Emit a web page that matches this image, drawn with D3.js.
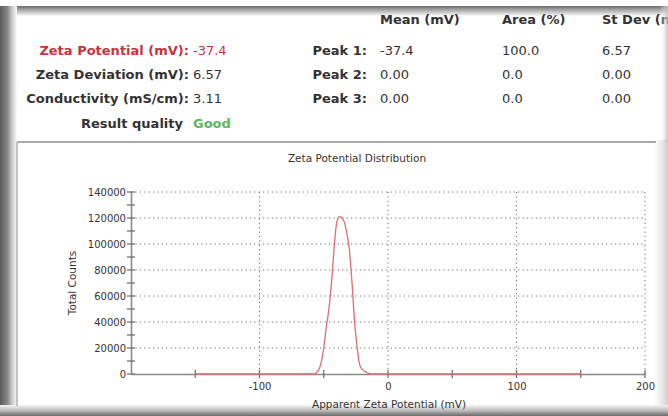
<!DOCTYPE html>
<html><head><meta charset="utf-8">
<script src="https://cdn.jsdelivr.net/npm/d3@7"></script>
<style>
html,body{margin:0;padding:0;background:#fff;}
svg{display:block;font-family:"DejaVu Sans","Liberation Sans",Arial,sans-serif;}
</style></head>
<body><svg id="c" width="668" height="416"></svg>
<script>
// ---- data ----
const summaryLabels = ["Zeta Potential (mV):", "Zeta Deviation (mV):", "Conductivity (mS/cm):", "Result quality"];
const summaryValues = ["-37.4", "6.57", "3.11", "Good"];
const peakLabels = ["Peak 1:", "Peak 2:", "Peak 3:"];
const peakHeaders = ["Mean (mV)", "Area (%)", "St Dev (mV)"];
const peakMeans = ["-37.4", "0.00", "0.00"];
const peakAreas = ["100.0", "0.0", "0.0"];
const peakStdDevs = ["6.57", "0.00", "0.00"];
const chartTitle = "Zeta Potential Distribution";
const xTickValues = [-100, 0, 100, 200];
const yTickValues = [0, 20000, 40000, 60000, 80000, 100000, 120000, 140000];
const zetaMv = [-150, -58, -56, -54, -52, -50, -48, -46, -44, -42, -40, -38, -36, -34, -32, -30, -28, -26, -24, -22, -20, -18, -16, -14, -12, 150];
const totalCounts = [0, 0, 800, 3000, 9000, 20000, 36000, 50000, 70000, 96000, 116000, 121000, 120000, 117000, 108000, 95000, 70000, 40000, 20000, 7000, 3500, 2000, 800, 200, 0, 0];

const svg = d3.select("#c");
const defs = svg.append("defs");

// ---- frame (screenshot look) ----
svg.append("rect").attr("width",668).attr("height",416).attr("fill","#fff");
function grad(id,x1,y1,x2,y2,stops){
  const g=defs.append("linearGradient").attr("id",id).attr("x1",x1).attr("y1",y1).attr("x2",x2).attr("y2",y2);
  stops.forEach(s=>g.append("stop").attr("offset",s[0]).attr("stop-color",s[1]));
}
grad("gl","0","0","1","0",[[0,"#5a5a5a"],[0.45,"#8a8a8a"],[0.7,"#c8c8c8"],[1,"#fafafa"]]);
grad("gt","0","0","0","1",[[0,"#6a6a6a"],[0.3,"#9a9a9a"],[1,"#fbfbfb"]]);
grad("gr","0","0","1","0",[[0,"#ffffff"],[0.6,"#e6e6e6"],[1,"#cfcfcf"]]);
grad("gb","0","0","0","1",[[0,"#f4f4f4"],[0.5,"#bdbdbd"],[1,"#6a6a6a"]]);
svg.append("rect").attr("x",0).attr("y",6).attr("width",668).attr("height",10).attr("fill","url(#gt)");
svg.append("rect").attr("x",0).attr("y",6).attr("width",17).attr("height",410).attr("fill","url(#gl)");
svg.append("rect").attr("x",654).attr("y",140).attr("width",14).attr("height",276).attr("fill","url(#gr)");
svg.append("rect").attr("x",0).attr("y",405).attr("width",668).attr("height",11).attr("fill","url(#gb)");
// chart panel border
svg.append("line").attr("x1",17).attr("x2",656).attr("y1",142).attr("y2",142).attr("stroke","#a8a8a8").attr("stroke-width",2);
svg.append("line").attr("x1",17).attr("x2",17).attr("y1",142).attr("y2",406).attr("stroke","#b0b0b0").attr("stroke-width",1.5);

// ---- summary text ----
const rowY = [55, 79, 103, 128];
const labelColors = ["#c9323c","#333","#333","#333"];
const valueColors = ["#c9323c","#333","#333","#5cb85c"];
summaryLabels.forEach((t,i)=>{
  svg.append("text").attr("x", i===3?183:189).attr("y",rowY[i]).attr("text-anchor","end")
    .attr("font-size",13).attr("font-weight","bold").attr("fill",labelColors[i]).text(t);
  svg.append("text").attr("x",193).attr("y",rowY[i]).attr("font-size",13)
    .attr("font-weight", i===3?"bold":"normal").attr("fill",valueColors[i]).text(summaryValues[i]);
});
const colX = [380, 502, 602];
peakHeaders.forEach((t,i)=>{
  svg.append("text").attr("x",colX[i]).attr("y",24).attr("font-size",13).attr("font-weight","bold").attr("fill","#333").text(t);
});
peakLabels.forEach((t,i)=>{
  svg.append("text").attr("x",367).attr("y",rowY[i]).attr("text-anchor","end").attr("font-size",13).attr("font-weight","bold").attr("fill","#333").text(t);
  [peakMeans,peakAreas,peakStdDevs].forEach((arr,j)=>{
    svg.append("text").attr("x",colX[j]).attr("y",rowY[i]).attr("font-size",13).attr("fill","#333").text(arr[i]);
  });
});
// thin right shadow over the clipped header, as in the screenshot
grad("gr2","0","0","1","0",[[0,"rgba(255,255,255,0)"],[1,"rgba(190,190,190,0.9)"]]);
svg.append("rect").attr("x",660).attr("y",6).attr("width",8).attr("height",136).attr("fill","url(#gr2)");

// ---- chart ----
const x = d3.scaleLinear().domain([-200,200]).range([131,645]);
const y = d3.scaleLinear().domain([0,140000]).range([374,192]);

svg.append("text").attr("x",357).attr("y",162).attr("text-anchor","middle").attr("font-size",10.5).attr("fill","#333").text(chartTitle);

// grid
const grid = svg.append("g").attr("stroke","#6d6d6d").attr("stroke-width",1).attr("stroke-dasharray","1.2,3.2");
grid.selectAll(".h").data(yTickValues.filter(v=>v>0)).join("line")
  .attr("x1",x(-200)).attr("x2",x(200)).attr("y1",d=>y(d)).attr("y2",d=>y(d));
grid.selectAll(".v").data(xTickValues).join("line")
  .attr("x1",d=>x(d)).attr("x2",d=>x(d)).attr("y1",y(140000)).attr("y2",y(0));

// axes
const fmt = d => String(d);
const yAxisG = svg.append("g").attr("transform",`translate(${x(-200)},0)`)
  .call(d3.axisLeft(y).tickValues(yTickValues).tickSize(0).tickPadding(5).tickFormat(fmt));
yAxisG.select(".domain").attr("stroke","#8a8a8a").attr("stroke-width",1.6);
yAxisG.selectAll("text").attr("font-size",10).attr("fill","#333").attr("font-family","DejaVu Sans, sans-serif");
svg.append("g").selectAll("line").data(d3.range(0,140001,10000)).join("line")
  .attr("x1",x(-200)-4).attr("x2",x(-200)+4).attr("y1",d=>y(d)).attr("y2",d=>y(d))
  .attr("stroke","#6a6a6a").attr("stroke-width",1.2);

const xAxisG = svg.append("g").attr("transform",`translate(0,${y(0)})`)
  .call(d3.axisBottom(x).tickValues(xTickValues).tickSize(0).tickPadding(9).tickFormat(fmt));
xAxisG.select(".domain").attr("stroke","#8a8a8a").attr("stroke-width",1.6);
xAxisG.selectAll("text").attr("font-size",10).attr("fill","#333").attr("font-family","DejaVu Sans, sans-serif");
svg.append("g").selectAll("line").data(d3.range(-150,201,50)).join("line")
  .attr("x1",d=>x(d)).attr("x2",d=>x(d)).attr("y1",y(0)-4).attr("y2",y(0)+4)
  .attr("stroke","#6a6a6a").attr("stroke-width",1.2);

// axis titles
svg.append("text").attr("transform",`translate(76,${(y(0)+y(140000))/2}) rotate(-90)`).attr("text-anchor","middle")
  .attr("font-size",10.5).attr("fill","#333").text("Total Counts");
svg.append("text").attr("x",389).attr("y",408).attr("text-anchor","middle").attr("font-size",10.5).attr("fill","#333").text("Apparent Zeta Potential (mV)");

// line
const line = d3.line().x((d,i)=>x(zetaMv[i])).y(d=>y(d)).curve(d3.curveMonotoneX);
svg.append("path").datum(totalCounts).attr("d",line).attr("fill","none").attr("stroke","#dc6f72").attr("stroke-width",1.3);
</script></body></html>
